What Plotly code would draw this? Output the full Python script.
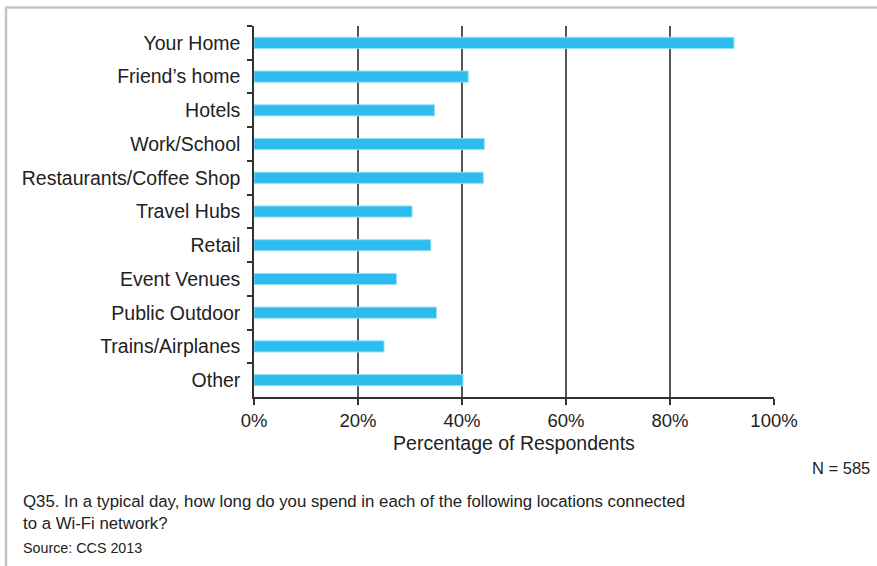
import plotly.graph_objects as go

categories = ["Your Home", "Friend\u2019s home", "Hotels", "Work/School",
              "Restaurants/Coffee Shop", "Travel Hubs", "Retail", "Event Venues",
              "Public Outdoor", "Trains/Airplanes", "Other"]
values = [92.3, 41.2, 34.7, 44.3, 44.1, 30.4, 34.0, 27.4, 35.1, 25.0, 40.2]
x_ticks = [0, 20, 40, 60, 80, 100]
x_tick_labels = ["0%", "20%", "40%", "60%", "80%", "100%"]

W, H = 877, 566
L, R, T, B = 254, 103, 26, 169

def px_x(px):
    return (px - L) / (W - L - R)

def px_y(py):
    return (H - B - py) / (H - T - B)

FONT = "Liberation Sans, Arial, sans-serif"

fig = go.Figure(go.Bar(
    x=values, y=categories, orientation="h",
    marker=dict(color="#2CBDEE", line=dict(color="#9ADDF5", width=1)),
    width=0.33,
    hoverinfo="x+y",
))

fig.update_layout(
    width=W, height=H,
    margin=dict(l=L, r=R, t=T, b=B),
    paper_bgcolor="white", plot_bgcolor="white",
    showlegend=False,
    font=dict(family=FONT, color="#222222"),
    xaxis=dict(
        range=[0, 100], tickvals=x_ticks, ticktext=x_tick_labels,
        showgrid=True, gridcolor="#555555", gridwidth=1.6,
        showline=True, linecolor="#333333", linewidth=1.5,
        ticks="outside", ticklen=6, tickcolor="#333333", tickwidth=1.5,
        tickfont=dict(size=18.5, color="#222222"),
        title=dict(text="Percentage of Respondents", font=dict(size=19.5, color="#222222"), standoff=6),
        zeroline=False, fixedrange=True,
    ),
    yaxis=dict(
        categoryorder="array", categoryarray=categories, autorange="reversed",
        showgrid=False, showline=True, linecolor="#333333", linewidth=1.5,
        ticks="outside", tickson="boundaries", ticklen=5, tickcolor="#333333", tickwidth=1.5,
        tickfont=dict(size=19.5, color="#222222"),
        ticklabelstandoff=8,
        zeroline=False, fixedrange=True,
    ),
)

# frame lines
frame_color = "#C4C4C4"
fig.add_shape(type="line", xref="paper", yref="paper",
              x0=px_x(5), x1=px_x(W + 5), y0=px_y(7.5), y1=px_y(7.5),
              line=dict(color=frame_color, width=2.5))
fig.add_shape(type="line", xref="paper", yref="paper",
              x0=px_x(6), x1=px_x(6), y0=px_y(7.5), y1=px_y(H + 5),
              line=dict(color=frame_color, width=2.5))

fig.add_annotation(text="N = 585", xref="paper", yref="paper",
                   x=px_x(872), y=px_y(468), xanchor="right", yanchor="middle",
                   showarrow=False, font=dict(size=16.5, color="#222222"))
fig.add_annotation(text="Q35. In a typical day, how long do you spend in each of the following locations connected<br>to a Wi-Fi network?",
                   xref="paper", yref="paper", x=px_x(21), y=px_y(490),
                   xanchor="left", yanchor="top", align="left",
                   showarrow=False, font=dict(size=16.8, color="#222222"))
fig.add_annotation(text="Source: CCS 2013", xref="paper", yref="paper",
                   x=px_x(21), y=px_y(548), xanchor="left", yanchor="middle",
                   showarrow=False, font=dict(size=14.3, color="#222222"))

fig.write_html("out.html", config={"displayModeBar": False},
               post_script="document.body.style.margin='0px';document.body.style.overflow='hidden';")
